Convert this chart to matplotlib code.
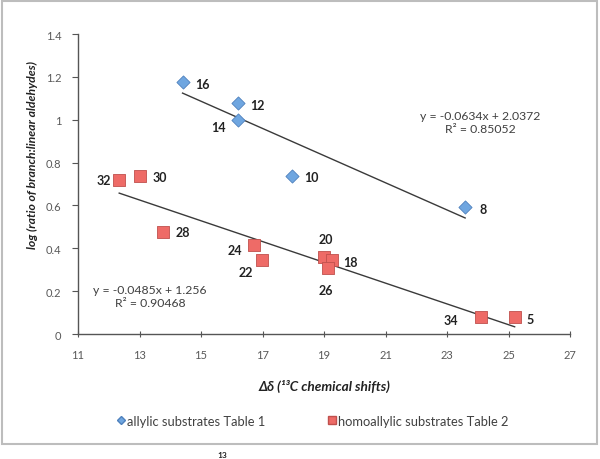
import numpy as np
import matplotlib.pyplot as plt
from matplotlib.patches import Rectangle
from matplotlib.lines import Line2D

plt.rcParams['font.family'] = ['Lato', 'DejaVu Sans']

# allylic substrates (Table 1)
allyl_x = [14.40, 16.19, 16.19, 17.95, 23.59]
allyl_y = [1.175, 1.077, 1.000, 0.739, 0.591]
allyl_lab = ['16', '12', '14', '10', '8']

# homoallylic substrates (Table 2)
homo_x = [12.34, 13.02, 13.75, 16.72, 16.99, 19.00, 19.25, 19.14, 24.10, 25.20]
homo_y = [0.719, 0.739, 0.475, 0.417, 0.347, 0.358, 0.347, 0.306, 0.078, 0.078]
homo_lab = ['32', '30', '28', '24', '22', '20', '18', '26', '34', '5']

# trendlines
allyl_fit = (-0.0634, 2.0372, 0.85052)
homo_fit = (-0.0485, 1.256, 0.90468)

# label offsets in pixels (dx, dy)
allyl_off = [(20, -2), (20, -2), (-19, -7), (20, -1), (18, -2)]
homo_off = [(-15, 0), (20, -1), (20, 0), (-19, -5), (-16, -12),
            (2, 18), (19, -2), (-2, -22), (-30, -3), (15, -2)]

blue, blue_edge = '#6FA6E0', '#4F81BD'
red, red_edge = '#EE6B67', '#C0504D'
txt = '#404040'

fig = plt.figure(figsize=(6, 4.6), dpi=100)
ax = fig.add_axes([0.13, 0.2717, 0.82, 0.6522])

ax.scatter(allyl_x, allyl_y, marker='D', s=45, color=blue, edgecolor=blue_edge,
           linewidth=0.6, zorder=3)
ax.scatter(homo_x, homo_y, marker='s', s=80, color=red, edgecolor=red_edge,
           linewidth=0.6, zorder=3)

for xs, fit in [(allyl_x, allyl_fit), (homo_x, homo_fit)]:
    xx = np.array([min(xs), max(xs)])
    ax.plot(xx, fit[0] * xx + fit[1], color='#3a3a3a', lw=1.0, zorder=2)

for xs, ys, labs, offs in [(allyl_x, allyl_y, allyl_lab, allyl_off),
                           (homo_x, homo_y, homo_lab, homo_off)]:
    for x, y, l, o in zip(xs, ys, labs, offs):
        ax.annotate(l, (x, y), xytext=o, textcoords='offset pixels',
                    ha='center', va='center', fontsize=9,
                    fontweight='bold', color='#222222')

def eq(fit):
    return f'y = {fit[0]}x + {fit[1]}\nR² = {fit[2]}'

fig.text(480 / 600, 1 - 123 / 460, eq(allyl_fit), ha='center', va='center',
         fontsize=8.8, color=txt, linespacing=1.2)
fig.text(150 / 600, 1 - 297 / 460, eq(homo_fit), ha='center', va='center',
         fontsize=8.8, color=txt, linespacing=1.2)

ax.set_xlim(11, 27)
ax.set_ylim(0, 1.4)
ax.set_xticks(np.arange(11, 28, 2))
ax.set_yticks(np.arange(0, 1.41, 0.2))
ax.set_yticklabels([f'{v:g}' for v in np.round(np.arange(0, 1.41, 0.2), 1)])
for s in ['top', 'right']:
    ax.spines[s].set_visible(False)
for s in ['left', 'bottom']:
    ax.spines[s].set_color('#555555')
    ax.spines[s].set_linewidth(1.0)
ax.tick_params(axis='y', direction='out', length=4, color='#555555',
               labelsize=8, labelcolor='#595959', pad=8)
ax.tick_params(axis='x', direction='inout', length=5, color='#555555',
               labelsize=8, labelcolor='#595959', pad=8)

ax.set_ylabel('log (ratio of branch:linear aldehydes)', fontsize=8.8,
              fontweight='bold', fontstyle='italic', color='#222222')
ax.yaxis.set_label_coords(-0.082, 0.6)
ax.set_xlabel('Δδ (¹³C chemical shifts)', fontsize=9.8, fontweight='bold',
              fontstyle='italic', color='#222222')
ax.xaxis.set_label_coords(0.5, -0.15)

handles = [Line2D([], [], marker='D', ls='', color=blue, markeredgecolor=blue_edge,
                  markersize=4.5),
           Line2D([], [], marker='s', ls='', color=red, markeredgecolor=red_edge,
                  markersize=6)]
fig.legend(handles, ['allylic substrates Table 1', 'homoallylic substrates Table 2'],
           loc='center', bbox_to_anchor=(0.52, 1 - 422 / 460), ncol=2,
           frameon=False, fontsize=9.3, labelcolor=txt, handletextpad=0.05,
           columnspacing=4.8, handlelength=0.8)

fig.patches.append(Rectangle((2 / 600, 1 - 445 / 460), 595 / 600, 443 / 460,
                             transform=fig.transFigure, fill=False,
                             edgecolor='#BDBDBD', lw=1.5))
fig.text(222 / 600, 1 - 459 / 460, '13', fontsize=6, fontweight='bold',
         color='#222222', ha='center', va='bottom')

plt.savefig('out.png', dpi=100)
plt.close()
